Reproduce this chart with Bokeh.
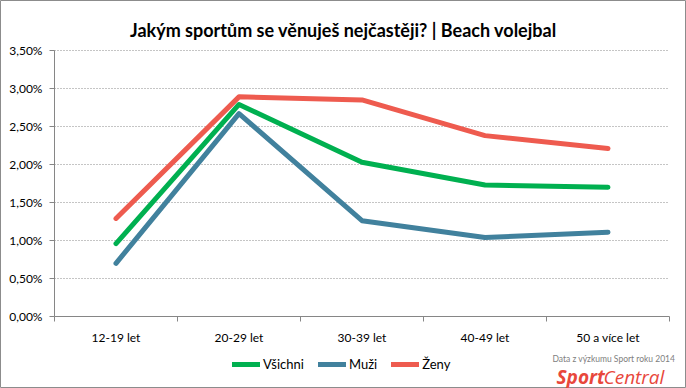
from bokeh.plotting import figure
from bokeh.models import (Range1d, FixedTicker, CustomJSTickFormatter, Legend,
                          LegendItem, Label)
from bokeh.embed import file_html
from bokeh.resources import INLINE

# ---- data ----
categories = ["12-19 let", "20-29 let", "30-39 let", "40-49 let", "50 a více let"]
vsichni = [0.96, 2.79, 2.03, 1.73, 1.70]
muzi = [0.70, 2.67, 1.26, 1.04, 1.11]
zeny = [1.29, 2.89, 2.85, 2.38, 2.21]
y_ticks = [0, 0.5, 1.0, 1.5, 2.0, 2.5, 3.0, 3.5]
series_names = ["Všichni", "Muži", "Ženy"]
series_colors = ["#00b050", "#41819d", "#ee5b4f"]
title_text = "Jakým sportům se věnuješ nejčastěji? | Beach volejbal"
source_note = "Data z výzkumu Sport roku 2014"
brand_a, brand_b = "Sport", "Central"

FONT = "Lato"
AXIS_COLOR = "#868686"

# layout (pixels): the frame covers the whole figure, the value area sits inside
W, H = 686, 388
PL, PR, PT, PB = 54, 669, 50, 316      # value-area edges in pixels
n = len(categories)
y_max = y_ticks[-1]
px_x = (PR - PL) / n
px_y = (PB - PT) / y_max
x_range = Range1d(-PL / px_x, n + (W - PR) / px_x)
y_range = Range1d(-(H - PB) / px_y, y_max + PT / px_y)

xs = [i + 0.5 for i in range(n)]
boundaries = list(range(n + 1))

p = figure(width=W, height=H, output_backend="svg", toolbar_location=None,
           x_range=x_range, y_range=y_range,
           min_border_left=0, min_border_right=0, min_border_top=0,
           min_border_bottom=0)
p.outline_line_color = "#8c8c8c"
p.outline_line_width = 1
p.background_fill_color = "white"
p.border_fill_color = "white"

# grid
p.xgrid.visible = False
p.ygrid.ticker = FixedTicker(ticks=y_ticks[1:])
p.ygrid.cross_bounds = (0, n)
p.ygrid.grid_line_color = "#8a8a8a"
p.ygrid.grid_line_dash = "1 2"
p.ygrid.grid_line_width = 1

# y axis (drawn at x = 0)
yax = p.yaxis[0]
yax.fixed_location = 0
yax.ticker = FixedTicker(ticks=y_ticks)
yax.bounds = (0, y_max)
yax.formatter = CustomJSTickFormatter(code="return tick.toFixed(2).replace('.', ',') + '%';")
yax.axis_line_color = AXIS_COLOR
yax.major_tick_line_color = AXIS_COLOR
yax.major_tick_out = 5
yax.major_tick_in = 0
yax.minor_tick_line_color = None
yax.major_label_standoff = 7
yax.major_label_text_font = FONT
yax.major_label_text_font_size = "12px"
yax.major_label_text_color = "#000000"

# x axis (drawn at y = 0)
xax = p.xaxis[0]
xax.fixed_location = 0
xax.bounds = (0, n)
xax.ticker = FixedTicker(ticks=xs, minor_ticks=boundaries)
xax.major_label_overrides = {x: c for x, c in zip(xs, categories)}
xax.axis_line_color = AXIS_COLOR
xax.major_tick_line_color = None
xax.major_tick_out = 0
xax.major_tick_in = 0
xax.minor_tick_line_color = AXIS_COLOR
xax.minor_tick_out = 5
xax.minor_tick_in = 0
xax.major_label_standoff = 8
xax.major_label_text_font = FONT
xax.major_label_text_font_size = "12px"
xax.major_label_text_color = "#000000"

# lines
items = []
for name, vals, col in zip(series_names, [vsichni, muzi, zeny], series_colors):
    r = p.line(xs, vals, line_width=5, line_color=col, line_cap="round",
               line_join="round")
    items.append(LegendItem(label=name, renderers=[r]))

legend = Legend(items=items, orientation="horizontal", location=(232, 16),
                glyph_width=28, glyph_height=14, label_standoff=3, spacing=14,
                padding=0, margin=0, border_line_color=None,
                background_fill_alpha=0, label_text_font=FONT,
                label_text_font_size="13px", label_text_color="#000000")
p.add_layout(legend)

# title
p.add_layout(Label(x=343, y=359, x_units="screen", y_units="screen",
                   text=title_text, text_font=FONT, text_font_size="18px",
                   text_font_style="bold", text_color="#000000",
                   text_align="center", text_baseline="alphabetic"))

# watermark
p.add_layout(Label(x=552, y=30, x_units="screen", y_units="screen",
                   text=source_note, text_font=FONT, text_font_size="8.5px",
                   text_color="#808080", text_baseline="alphabetic"))
p.add_layout(Label(x=556, y=12, x_units="screen", y_units="screen",
                   text=brand_a, text_font="Open Sans", text_font_size="19px",
                   text_font_style="bold italic", text_color="#e8473b",
                   text_baseline="alphabetic"))
p.add_layout(Label(x=603, y=12, x_units="screen", y_units="screen",
                   text=brand_b, text_font="Open Sans", text_font_size="19px",
                   text_font_style="italic", text_color="#e8473b",
                   text_baseline="alphabetic"))

open("out.html", "w").write(file_html(p, INLINE))
